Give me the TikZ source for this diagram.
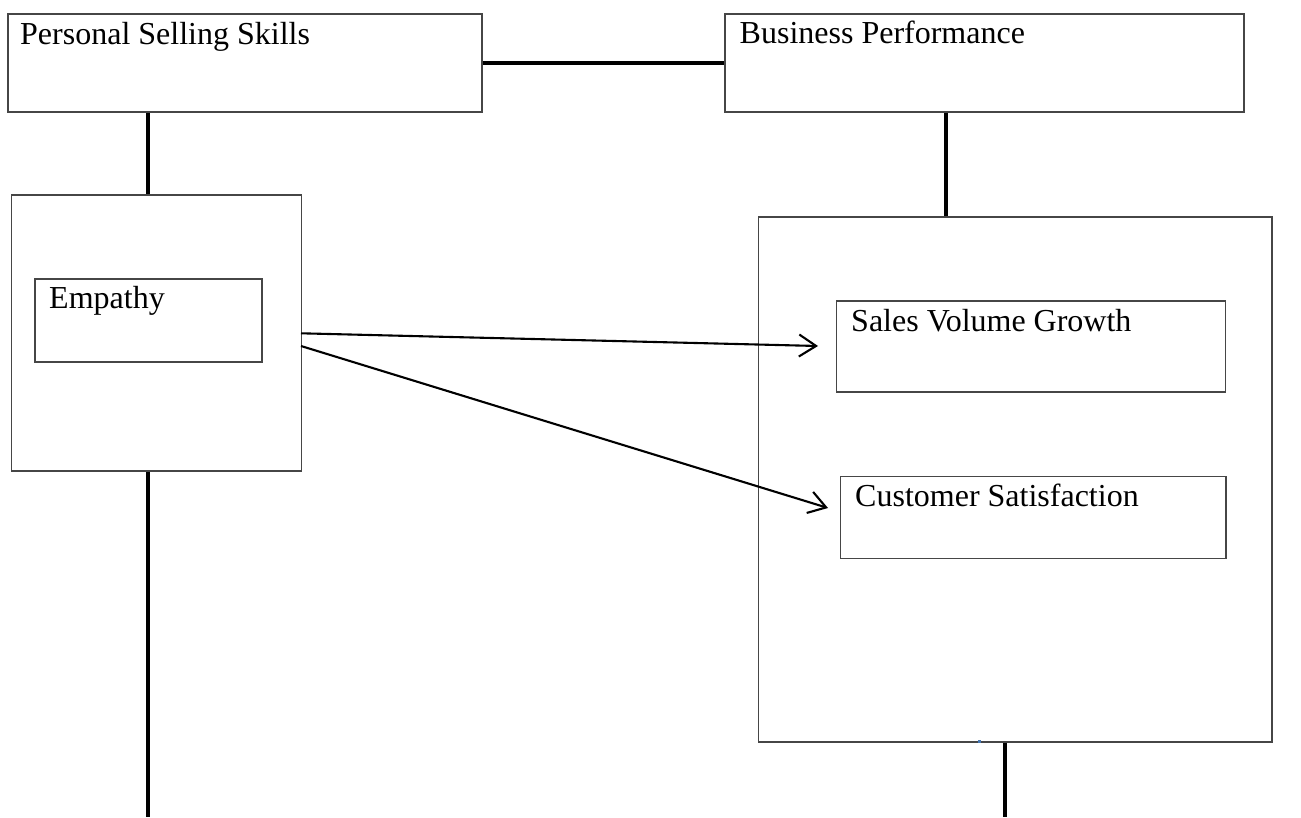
\documentclass[tikz,border=0pt]{standalone}
\usepackage{fontspec}
\setmainfont{Liberation Serif}
\usetikzlibrary{arrows.meta}
\definecolor{boxgray}{RGB}{70,70,70}
\definecolor{dotblue}{RGB}{70,120,180}
\begin{document}
\begin{tikzpicture}[x=1pt,y=-1pt,
  box/.style={draw=boxgray,line width=1.8pt,rectangle,anchor=north west,inner sep=0pt},
  lbl/.style={anchor=base west,inner sep=0pt,font=\fontsize{32}{38}\selectfont},
  conn/.style={line width=3.4pt,black},
  arr/.style={line width=2.1pt,black,-{Straight Barb[length=17pt,width=22pt,line width=2.1pt]}}]
\useasboundingbox[fill=white] (0,0) rectangle (1301,817);
% boxes
\node[box,minimum width=474pt,minimum height=98pt] (pss) at (7,13) {};
\node[box,minimum width=519pt,minimum height=98pt] (bp) at (724,13) {};
\node[box,minimum width=290pt,minimum height=276pt] (emo) at (10.5,194) {};
\node[box,minimum width=227pt,minimum height=83pt] (emp) at (34,278) {};
\node[box,minimum width=513.5pt,minimum height=525pt] (bpo) at (757.5,216) {};
\node[box,minimum width=389pt,minimum height=91pt] (svg) at (835.5,300) {};
\node[box,minimum width=385.5pt,minimum height=82pt] (cs) at (839.5,475.5) {};
% labels
\node[lbl] (pssT) at (20,44) {Personal Selling Skills};
\node[lbl] (bpT) at (739.5,43.5) {Business Performance};
\node[lbl] (empT) at (49,308) {Empathy};
\node[lbl] (svgT) at (851,331) {Sales Volume Growth};
\node[lbl] (csT) at (855,506) {Customer Satisfaction};
% connectors
\coordinate (a1) at (148,0);
\coordinate (a2) at (148,817);
\coordinate (b1) at (946,0);
\coordinate (c1) at (1005,817);
\draw[conn] (pss.east) -- (bp.west);
\draw[conn] (pss.south -| a1) -- (emo.north -| a1);
\draw[conn] (emo.south -| a1) -- (a2);
\draw[conn] (bp.south -| b1) -- (bpo.north -| b1);
\draw[conn] (bpo.south -| c1) -- (c1);
% arrows
\coordinate (s1) at (301,333.3);
\coordinate (s2) at (301,346);
\coordinate (e1) at (818,346);
\coordinate (e2) at (828,508);
\draw[arr] (s1) -- (e1);
\draw[arr] (s2) -- (e2);
% small mark
\fill[dotblue] (977.5,739.5) rectangle (980.5,742.5);
\end{tikzpicture}
\end{document}
